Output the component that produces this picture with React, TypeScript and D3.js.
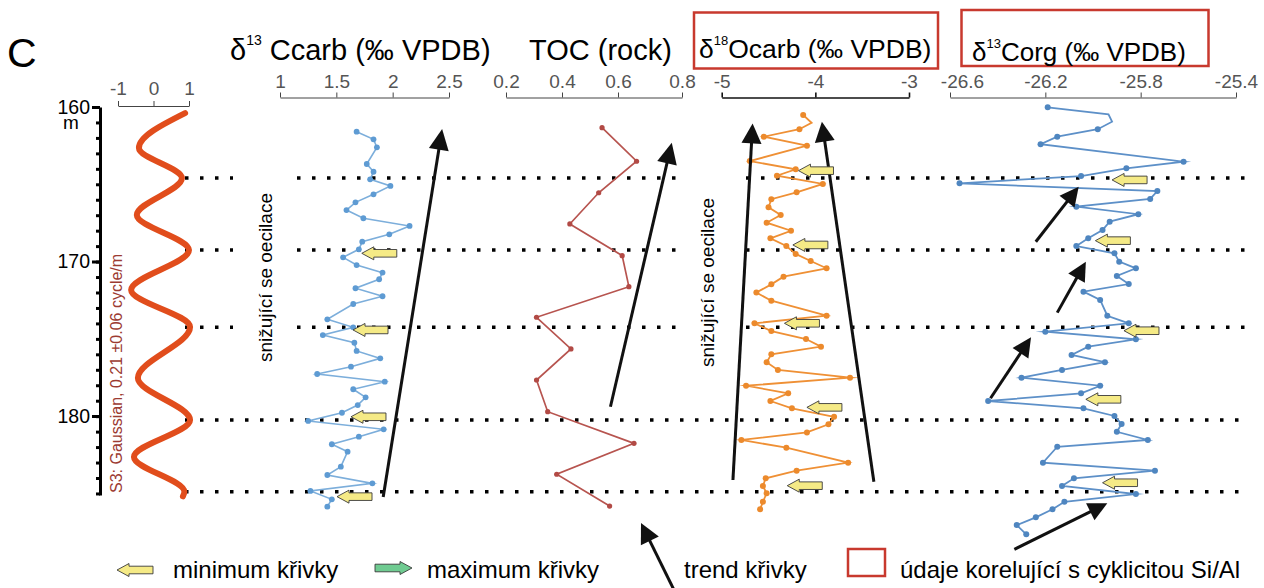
import React, { useEffect, useRef } from 'react';
import * as d3 from 'd3';

// S3 filtered component (Gaussian band), extrema
const sineDepth = [160.4, 162.65, 164.6, 166.99, 169.26, 171.84, 174.24, 177.54, 180.26, 182.65, 184.9, 185.2];
const sineValue = [0.89, -0.41, 0.8, -0.47, 1.0, -0.63, 1.03, -0.44, 1.03, -0.55, 0.87, 0.83];

// d13C carb (per mil VPDB)
const ccarbDepth = [161.6, 162.09, 162.61, 163.69, 164.19, 164.68, 165.11, 165.65, 166.17, 166.67, 167.2, 167.7, 168.24, 168.72, 169.21, 169.73, 170.23, 170.72, 171.15, 171.73, 172.25, 172.75, 173.74, 174.26, 174.76, 175.26, 175.79, 176.27, 176.81, 177.28, 177.78, 178.27, 178.79, 179.29, 179.79, 180.32, 180.86, 181.34, 181.83, 182.31, 183.28, 183.82, 184.36, 184.85, 185.39, 185.87];
const ccarbValue = [1.68, 1.83, 1.86, 1.77, 1.83, 1.8, 1.98, 1.83, 1.67, 1.59, 1.74, 2.15, 1.97, 1.73, 1.7, 1.56, 1.68, 1.91, 1.88, 1.67, 1.91, 1.65, 1.42, 1.65, 1.38, 1.66, 1.68, 1.89, 1.63, 1.33, 1.93, 1.65, 1.76, 1.69, 1.55, 1.25, 1.92, 1.7, 1.46, 1.6, 1.54, 1.42, 1.82, 1.27, 1.46, 1.42];

// TOC (rock)
const tocDepth = [161.34, 163.51, 165.55, 167.57, 169.62, 171.63, 173.61, 175.66, 177.67, 179.72, 181.77, 183.77, 185.83];
const tocValue = [0.543, 0.658, 0.531, 0.428, 0.613, 0.634, 0.309, 0.432, 0.309, 0.349, 0.65, 0.381, 0.57];

// d18O carb
const d18oDepth = [160.52, 161.02, 161.44, 161.92, 162.5, 163.5, 164.03, 164.45, 164.98, 165.52, 165.97, 166.49, 166.99, 167.49, 168.01, 168.5, 169.0, 169.51, 169.97, 170.44, 170.98, 171.48, 172.01, 172.54, 173.51, 174.0, 174.5, 175.02, 175.51, 176.01, 176.52, 177.02, 177.52, 178.04, 178.53, 179.03, 179.5, 180.05, 180.54, 181.06, 181.55, 182.05, 183.02, 183.54, 184.03, 184.53, 185.0, 185.55, 186.04];
const d18oValue = [-4.13, -4.04, -4.17, -4.55, -4.09, -4.7, -4.21, -4.41, -3.92, -4.2, -4.47, -4.5, -4.37, -4.52, -4.26, -4.48, -4.31, -4.21, -4.05, -3.88, -4.34, -4.47, -4.63, -4.47, -3.88, -4.65, -4.47, -4.1, -3.94, -4.47, -4.52, -4.4, -3.63, -4.74, -4.29, -4.48, -4.25, -3.8, -3.86, -4.09, -4.79, -4.31, -3.65, -4.2, -4.53, -4.56, -4.52, -4.56, -4.59];
const d18oNoDot = [1];

// d13C org
const corgDepth = [160.02, 160.47, 160.95, 161.44, 161.92, 162.41, 163.54, 163.97, 164.47, 164.94, 165.44, 165.95, 166.45, 166.94, 167.42, 167.96, 168.5, 169.0, 169.47, 170.01, 170.44, 170.94, 171.46, 171.95, 172.49, 173.51, 174.0, 174.54, 175.04, 175.51, 176.05, 176.52, 177.02, 177.52, 178.04, 178.53, 179.03, 179.5, 180.0, 180.52, 181.02, 181.55, 181.99, 183.02, 183.54, 184.03, 184.53, 185.05, 185.55, 186.04, 186.56, 187.06, 187.66];
const corgValue = [-26.19, -25.935, -25.92, -25.98, -26.15, -26.22, -25.62, -25.86, -26.05, -26.56, -25.73, -25.76, -26.07, -25.81, -25.93, -25.96, -26.02, -26.07, -25.91, -25.89, -25.82, -25.9, -25.85, -26.04, -25.97, -25.94, -25.85, -26.2, -25.82, -26.02, -26.09, -25.95, -26.13, -26.3, -25.97, -26.05, -26.44, -26.04, -25.91, -25.88, -25.9, -25.77, -26.15, -26.21, -25.74, -26.08, -26.13, -25.82, -26.12, -26.17, -26.24, -26.32, -26.28];
const corgNoDot = [1, 2];

// tick labels
const depthTicks = [160, 170, 180];
const sineTicks = [-1, 0, 1];
const ccarbTicks = [1, 1.5, 2, 2.5];
const tocTicks = [0.2, 0.4, 0.6, 0.8];
const d18oTicks = [-5, -4, -3];
const corgTicks = [-26.6, -26.2, -25.8, -25.4];

// depths of the S3 maxima (dotted correlation lines)
const cycleDepths = [164.6, 169.26, 174.26, 180.26, 184.9];

// trend arrows: [from depth, from value, to depth, to value]
const ccarbTrends = [[185.24, 1.916, 161.42, 2.439]];
const tocTrends = [[179.4, 0.573, 162.31, 0.768]];
const d18oTrends = [[184.14, -4.88, 161.06, -4.67], [184.25, -3.375, 160.95, -3.93]];
const corgTrends = [[168.72, -26.24, 165.16, -26.06], [173.31, -26.15, 170.01, -26.03], [178.85, -26.43, 174.91, -26.26], [188.63, -26.33, 185.65, -25.94]];

// curve minima markers: [depth, value of arrow tip]
const ccarbMinima = [[169.47, 1.726], [174.43, 1.648], [180.05, 1.63], [185.22, 1.506]];
const d18oMinima = [[164.12, -4.18], [168.93, -4.24], [174.0, -4.33], [179.44, -4.09], [184.51, -4.3]];
const corgMinima = [[164.72, -25.92], [168.65, -25.99], [174.48, -25.87], [178.92, -26.03], [184.32, -25.96]];

const FONT = "'Liberation Sans', Arial, Helvetica, sans-serif";

const smallArrow = (len = 35, head = 12, hh = 6.5, sh = 3.8) =>
  `M0,0 L${head},${-hh} L${head},${-sh} L${len},${-sh} L${len},${sh} L${head},${sh} L${head},${hh} Z`;

const App: React.FC = () => {
  const svgRef = useRef<SVGSVGElement>(null);

  useEffect(() => {
    const svg = d3.select(svgRef.current);
    const g = svg.select<SVGGElement>('.plot');
    g.selectAll('*').remove();

    const yScale = d3.scaleLinear().domain([160, 185]).range([107, 493.25]);

    // dotted correlation lines
    const segs = (i: number) => (i < 3 ? [[185, 233], [297, 680], [746, 1250]] : [[185, 1250]]);
    cycleDepths.forEach((d, i) => {
      segs(i).forEach(([x1, x2]) => {
        g.append('line')
          .attr('x1', x1).attr('x2', x2)
          .attr('y1', yScale(d)).attr('y2', yScale(d))
          .attr('stroke', '#000')
          .attr('stroke-width', 3.5)
          .attr('stroke-dasharray', '3.5,11.5');
      });
    });

    // depth axis
    const depthAxis = g.append('g').attr('transform', 'translate(100,0)');
    depthAxis
      .call(d3.axisLeft(yScale.copy().domain([160, 185.1]).range([107, 495]))
        .tickValues(d3.range(160, 186))
        .tickSize(4)
        .tickSizeOuter(0)
        .tickFormat(() => ''))
      .call((s) => s.selectAll('path,line').attr('stroke', '#000').attr('stroke-width', 3));
    const depthMajor = g.append('g').attr('transform', 'translate(100,0)');
    depthMajor
      .call(d3.axisLeft(yScale).tickValues(depthTicks).tickSize(8).tickPadding(2).tickFormat((d) => String(d)))
      .call((s) => s.select('.domain').remove())
      .call((s) => s.selectAll('line').attr('stroke', '#000').attr('stroke-width', 3))
      .call((s) => s.selectAll('text').attr('fill', '#000').style('font-size', '19.5px').style('font-family', FONT));

    // sine component
    const sineX = d3.scaleLinear().domain([-1, 1]).range([118, 189]);
    const topAxis = (scale: d3.ScaleLinear<number, number>, ticks: number[], y: number, pad: number, color = '#444', w = 1) =>
      g.append('g')
        .attr('transform', `translate(0,${y})`)
        .call(d3.axisTop(scale).tickValues(ticks).tickSize(5).tickSizeOuter(0).tickPadding(pad).tickFormat((d) => String(d)))
        .call((s) => s.selectAll('path,line').attr('stroke', color).attr('stroke-width', w))
        .call((s) => s.selectAll('text').attr('fill', '#555').style('font-size', '19px').style('font-family', FONT));
    topAxis(sineX, sineTicks, 106, 6);

    const sinePts = sineDepth.map((d, i) => [sineX(sineValue[i]), yScale(d)] as [number, number]);
    g.append('path')
      .attr('d', d3.line().curve(d3.curveMonotoneY)(sinePts))
      .attr('fill', 'none')
      .attr('stroke', '#e14d1c')
      .attr('stroke-width', 6)
      .attr('stroke-linecap', 'round');

    const panels = [
      { x: d3.scaleLinear().domain([1, 2.5]).range([280, 449]), ticks: ccarbTicks, depth: ccarbDepth, value: ccarbValue, noDot: [] as number[], line: '#7caedb', dot: '#5e9bd3', lw: 1.6, r: 2.9, trends: ccarbTrends, minima: ccarbMinima, head: [21, 10], axisColor: '#444', axisW: 1 },
      { x: d3.scaleLinear().domain([0.2, 0.6, 0.8]).range([506, 618, 682]), ticks: tocTicks, depth: tocDepth, value: tocValue, noDot: [] as number[], line: '#b7544f', dot: '#b24a45', lw: 1.7, r: 2.6, trends: tocTrends, minima: [] as number[][], head: [21, 10], axisColor: '#444', axisW: 1 },
      { x: d3.scaleLinear().domain([-5, -3]).range([721.7, 909]), ticks: d18oTicks, depth: d18oDepth, value: d18oValue, noDot: d18oNoDot, line: '#ef9035', dot: '#ec8a2c', lw: 1.8, r: 3, trends: d18oTrends, minima: d18oMinima, head: [20, 10], axisColor: '#111', axisW: 1.6 },
      { x: d3.scaleLinear().domain([-26.6, -25.4]).range([950, 1236]), ticks: corgTicks, depth: corgDepth, value: corgValue, noDot: corgNoDot, line: '#5d90c8', dot: '#4f86c0', lw: 1.8, r: 3, trends: corgTrends, minima: corgMinima, head: [19, 9.5], axisColor: '#444', axisW: 1 },
    ];

    panels.forEach((p, pi) => {
      const ax = topAxis(p.x, p.ticks, 97.5, 5, p.axisColor, p.axisW);
      // first d13Corg label sits right of its tick in the original
      if (pi === 3) ax.selectAll('text').filter((d) => d === -26.6).attr('dx', 12);
      const pts = p.depth.map((d, i) => [p.x(p.value[i]), yScale(d)] as [number, number]);
      g.append('path')
        .attr('d', d3.line()(pts))
        .attr('fill', 'none')
        .attr('stroke', p.line)
        .attr('stroke-width', p.lw)
        .attr('stroke-linejoin', 'miter')
        .attr('stroke-miterlimit', 12);
      g.append('g')
        .selectAll('circle')
        .data(pts.filter((_, i) => !p.noDot.includes(i)))
        .join('circle')
        .attr('cx', (d) => d[0])
        .attr('cy', (d) => d[1])
        .attr('r', p.r)
        .attr('fill', p.dot);
    });

    // trend arrows
    const bigArrow = (x1: number, y1: number, x2: number, y2: number, hl: number, hw: number) => {
      const dx = x2 - x1, dy = y2 - y1;
      const len = Math.hypot(dx, dy);
      const ux = dx / len, uy = dy / len;
      const bx = x2 - ux * hl, by = y2 - uy * hl;
      g.append('line')
        .attr('x1', x1).attr('y1', y1)
        .attr('x2', bx + ux * 2).attr('y2', by + uy * 2)
        .attr('stroke', '#111').attr('stroke-width', 3);
      g.append('path')
        .attr('d', `M${x2},${y2} L${bx - uy * hw},${by + ux * hw} L${bx + uy * hw},${by - ux * hw} Z`)
        .attr('fill', '#111');
    };
    panels.forEach((p) => {
      p.trends.forEach((t) => bigArrow(p.x(t[1]), yScale(t[0]), p.x(t[3]), yScale(t[2]), p.head[0], p.head[1]));
      p.minima.forEach((m) => {
        g.append('path')
          .attr('d', smallArrow())
          .attr('transform', `translate(${p.x(m[1])},${yScale(m[0])})`)
          .attr('fill', '#f5ea86')
          .attr('stroke', '#3a3a3a')
          .attr('stroke-width', 0.9);
      });
    });

    // legend glyphs
    g.append('path').attr('d', smallArrow(36)).attr('transform', 'translate(117,570)')
      .attr('fill', '#f5ea86').attr('stroke', '#3a3a3a').attr('stroke-width', 0.9);
    g.append('path').attr('d', smallArrow(37)).attr('transform', 'translate(412,568) scale(-1,1)')
      .attr('fill', '#6fcb91').attr('stroke', '#3a3a3a').attr('stroke-width', 0.9);
    bigArrow(675, 592, 641, 523, 20, 10);
    g.append('rect').attr('x', 848).attr('y', 549).attr('width', 37).attr('height', 27)
      .attr('fill', 'none').attr('stroke', '#c8392e').attr('stroke-width', 2.5);
  }, []);

  return (
    <svg
      ref={svgRef}
      width={1264}
      height={588}
      style={{ position: 'absolute', left: 0, top: 0, background: '#fff', fontFamily: FONT }}
    >
      <rect width={1264} height={588} fill="#fff" />
      <text x={7} y={67} fontSize={41}>C</text>
      <text x={71} y={129} fontSize={19} textAnchor="middle">m</text>
      <text transform="translate(122,493) rotate(-90)" fontSize={16} fill="#9c3b32">
        S3: Gaussian, 0.21 ±0.06 cycle/m
      </text>

      <text x={230} y={60} fontSize={29}>
        δ<tspan dy={-15} style={{ fontSize: 14 }}>13</tspan><tspan dy={15}> Ccarb (‰ VPDB)</tspan>
      </text>
      <text x={529} y={60} fontSize={29}>TOC (rock)</text>
      <rect x={694} y={12.5} width={244} height={56} fill="none" stroke="#c8392e" strokeWidth={2.5} />
      <text x={699} y={58} fontSize={26.5}>
        δ<tspan dy={-13} style={{ fontSize: 13 }}>18</tspan><tspan dy={13}>Ocarb (‰ VPDB)</tspan>
      </text>
      <rect x={961.5} y={10} width={247} height={56} fill="none" stroke="#c8392e" strokeWidth={2.5} />
      <text x={972} y={61} fontSize={26}>
        δ<tspan dy={-13} style={{ fontSize: 13 }}>13</tspan><tspan dy={13}>Corg (‰ VPDB)</tspan>
      </text>

      <text transform="translate(272,362) rotate(-90)" fontSize={19}>snižující se oecilace</text>
      <text transform="translate(714,367) rotate(-90)" fontSize={19}>snižující se oecilace</text>

      <g className="plot" />

      <text x={173} y={578} fontSize={24}>minimum křivky</text>
      <text x={427} y={578} fontSize={24}>maximum křivky</text>
      <text x={684} y={578} fontSize={24}>trend křivky</text>
      <text x={900} y={578} fontSize={24}>údaje korelující s cyklicitou Si/Al</text>
    </svg>
  );
};

export default App;
